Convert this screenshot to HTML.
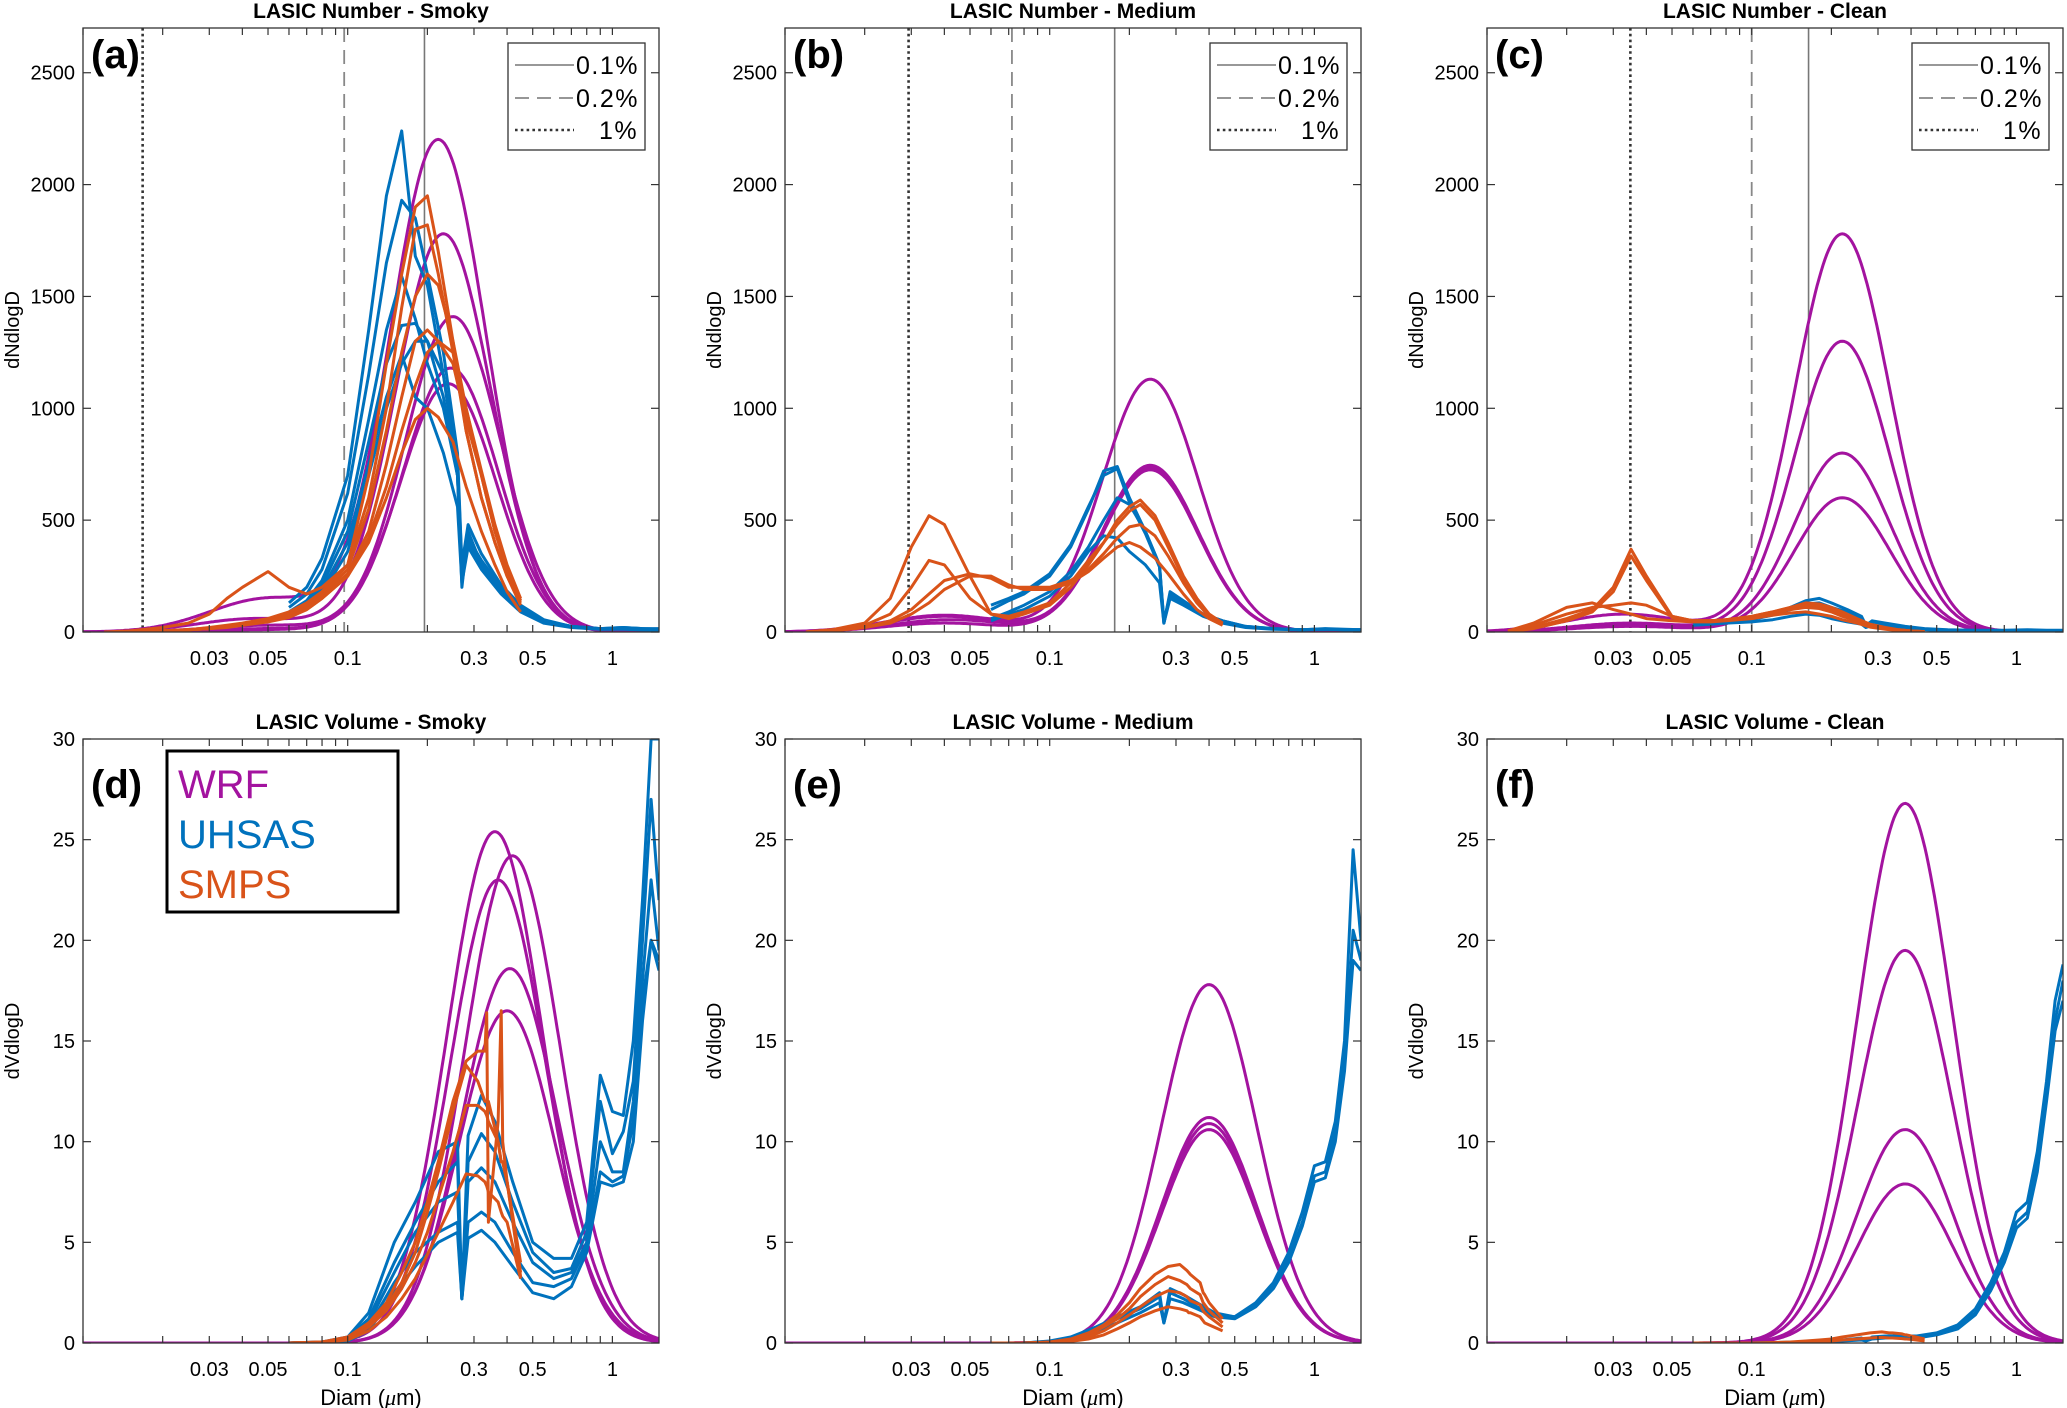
<!DOCTYPE html>
<html><head><meta charset="utf-8">
<style>
html,body{margin:0;padding:0;background:#fff;}
svg{display:block;font-family:"Liberation Sans",Arial,sans-serif;}
</style></head>
<body>
<svg id="fig" xmlns="http://www.w3.org/2000/svg" width="2067" height="1408" viewBox="0 0 2067 1408"></svg>
<script>
// ---------- shared data ----------
const xTickLabels = ["0.03","0.05","0.1","0.3","0.5","1"];
const xTickValues = [0.03,0.05,0.1,0.3,0.5,1];
const numYTicks = [0,500,1000,1500,2000,2500];
const volYTicks = [0,5,10,15,20,25,30];
const smpsD = [0.012,0.015,0.02,0.025,0.03,0.035,0.04,0.05,0.06,0.07,0.08,0.1,0.12,0.14,0.16,0.18,0.2,0.22,0.25,0.28,0.32,0.36,0.4,0.45];
const uhsasD = [0.06,0.07,0.08,0.1,0.12,0.14,0.16,0.18,0.2,0.23,0.26,0.27,0.285,0.32,0.38,0.45,0.55,0.7,0.9,1.1,1.3,1.5];
const uhsasVD = [0.06,0.08,0.1,0.12,0.15,0.18,0.22,0.26,0.27,0.285,0.32,0.36,0.42,0.5,0.6,0.7,0.8,0.9,1.0,1.1,1.2,1.3,1.4,1.5];
const smpsVD = [0.06,0.08,0.1,0.12,0.14,0.16,0.18,0.2,0.22,0.25,0.28,0.31,0.33,0.335,0.34,0.37,0.38,0.385,0.4,0.45];

// ---------- panel (a) Number Smoky ----------
const aWrfPeak = [2200,1780,1410,1180,1110];
const aWrfMode = [0.22,0.23,0.25,0.245,0.24];
const aWrfAitPeak = [150,60,30,15,10];
const aWrfAitMode = [0.05,0.045,0.05,0.05,0.05];
const aUhsas = [
 [130,200,330,700,1350,1950,2240,1680,1550,1150,700,200,450,300,180,100,50,25,15,20,15,15],
 [110,170,280,620,1150,1650,1930,1850,1600,1250,800,300,480,350,210,120,55,25,15,20,15,12],
 [90,140,230,500,950,1350,1590,1400,1200,1000,700,250,420,320,200,110,50,25,15,15,12,10],
 [80,130,210,450,850,1200,1370,1380,1300,1050,700,250,400,300,180,100,45,22,14,15,12,10],
 [80,120,190,400,750,1050,1240,1050,1000,800,560,220,380,280,170,90,40,20,12,14,10,10],
 [70,110,170,360,700,1000,1200,1300,1300,1150,750,300,420,310,190,100,45,22,12,12,10,8]];
const aSmps = [
 [0,5,20,40,80,150,200,270,200,170,200,300,700,1200,1600,1900,1950,1700,1300,900,600,400,250,130],
 [0,0,5,10,20,30,40,60,90,130,180,300,600,1000,1450,1800,1820,1600,1250,900,600,400,250,120],
 [0,0,5,10,15,25,35,55,80,120,170,280,550,900,1250,1500,1600,1550,1300,1000,700,450,280,140],
 [0,0,5,10,15,25,35,50,75,110,160,260,450,750,1050,1300,1350,1300,1200,950,700,450,280,140],
 [0,0,5,10,15,25,35,50,70,100,150,250,420,650,900,1100,1250,1300,1250,1000,720,480,300,150],
 [0,0,5,10,15,20,30,45,65,100,150,250,400,600,800,950,1000,960,850,650,450,300,180,90]];
const aVlines = [0.195,0.097,0.0168];

// ---------- panel (b) Number Medium ----------
const bWrfPeak = [1130,745,735,725];
const bWrfMode = [0.24,0.24,0.24,0.24];
const bWrfAitPeak = [75,70,55,40];
const bWrfAitMode = [0.04,0.04,0.042,0.04];
const bUhsas = [
 [100,140,170,250,380,550,720,740,600,450,300,40,180,140,80,50,25,15,10,15,12,10],
 [120,150,180,260,390,560,700,730,580,440,290,40,170,130,75,45,22,14,10,14,10,10],
 [60,90,120,180,270,380,500,600,570,450,300,50,160,130,80,50,25,15,10,12,10,10],
 [50,80,100,160,250,360,430,420,360,300,220,40,150,120,70,40,20,12,10,12,10,10]];
const bSmps = [
 [0,10,40,150,380,520,480,250,80,60,80,120,200,300,400,500,560,590,520,400,250,150,80,40],
 [0,10,30,80,200,320,300,150,80,70,90,130,220,320,400,480,540,570,500,380,240,140,80,40],
 [0,5,20,50,100,170,230,260,240,200,200,200,230,280,350,420,470,480,430,340,220,130,70,35],
 [0,5,20,40,80,130,190,250,250,210,190,190,220,270,330,380,400,380,330,260,170,100,60,30]];
const bVlines = [0.176,0.072,0.0293];

// ---------- panel (c) Number Clean ----------
const cWrfPeak = [1780,1300,800,600];
const cWrfMode = [0.22,0.22,0.22,0.22];
const cWrfAitPeak = [80,40,30,25];
const cWrfAitMode = [0.033,0.035,0.035,0.035];
const cUhsas = [
 [40,45,50,60,80,110,140,150,130,100,70,30,50,40,25,15,10,8,8,10,8,8],
 [35,40,45,55,75,100,125,130,110,90,60,25,45,35,20,12,8,6,6,8,6,6],
 [30,35,40,45,55,70,80,75,60,45,35,20,30,25,15,10,6,5,5,6,5,5]];
const cSmps = [
 [0,20,60,100,200,370,250,70,50,50,55,70,90,110,130,125,110,90,60,35,20,10,5,2],
 [0,15,50,90,180,340,230,65,50,50,55,70,90,110,120,115,100,80,55,30,18,10,5,2],
 [5,30,80,110,120,130,120,70,50,50,55,65,85,100,110,105,90,70,50,28,15,8,4,2],
 [5,40,110,130,100,80,60,50,45,45,50,60,75,85,90,80,70,55,40,22,12,6,3,1]];
const cVlines = [0.164,0.1,0.0348];

// ---------- panel (d) Volume Smoky ----------
const dWrfPeak = [25.4,24.2,23.0,18.6,16.5];
const dWrfMode = [0.36,0.42,0.37,0.41,0.40];
const dUhsas = [
 [0,0.05,0.3,1.5,5,7,9.5,10,2.2,10.3,12.3,11,8,5,4.2,4.2,6,13.3,11.5,11.3,15,22,30,30],
 [0,0.05,0.25,1.2,4,6,8,9,2.2,9,10.4,9.5,7,4.5,3.5,3.7,5.5,12,9.4,10.5,13,20,27,22],
 [0,0.04,0.2,1,3.5,5.5,7,7.5,2.2,8,8.7,8,6,4,3.2,3.5,5,10,8.5,8.5,12,18,23,19.5],
 [0,0.03,0.15,0.8,3,4.5,5.5,6,2.2,6,6.5,6,4.5,3,2.8,3.2,4.8,8.5,8,8.3,11,17,20,18.5],
 [0,0.03,0.1,0.6,2.5,3.8,5,5.5,2.2,5.2,5.6,5,3.8,2.5,2.2,2.8,4.5,8,7.8,8,10,16,20,19]];
const dSmps = [
 [0,0.05,0.3,1,2,3.5,5,7,9,12,14,14.5,14.5,16.4,6,11,16.5,10,8,4],
 [0,0.05,0.25,0.9,1.8,3,4.5,6.5,8.5,11.5,13.8,13,12,12,12,10,9,9,8,3.3],
 [0,0.04,0.2,0.8,1.6,2.7,4,5.5,7.2,9.5,11.8,11.8,11.5,11.3,11,10,9,9,8,3.5],
 [0,0.03,0.15,0.6,1.3,2.2,3.2,4.4,5.5,7,8.4,8.3,8,7.8,7.5,7,6.5,6.3,6,3.2]];

// ---------- panel (e) Volume Medium ----------
const eWrfPeak = [17.8,11.2,10.9,10.6];
const eWrfMode = [0.40,0.40,0.40,0.40];
const eUhsas = [
 [0,0,0.1,0.3,0.8,1.3,1.8,2.5,1,2.7,2.4,2,1.5,1.3,2,3,4.5,6.5,8.8,9,11,15,24.5,20],
 [0,0,0.08,0.25,0.7,1.2,1.7,2.3,1,2.5,2.2,1.8,1.4,1.3,1.9,2.8,4.2,6,8.3,8.5,10.5,14,20.5,19],
 [0,0,0.06,0.2,0.6,1,1.5,2,1,2.2,2,1.7,1.3,1.2,1.8,2.7,4,5.8,8,8.2,10,13.5,19,18.5]];
const eSmps = [
 [0,0,0.05,0.2,0.5,0.9,1.4,2,2.7,3.4,3.8,3.9,3.6,3.5,3.4,3,2.5,2.4,2,1.2],
 [0,0,0.04,0.15,0.4,0.8,1.2,1.7,2.3,2.9,3.3,3.1,2.9,2.8,2.7,2.4,2,1.9,1.6,1],
 [0,0,0.03,0.1,0.3,0.6,1,1.4,1.8,2.3,2.6,2.5,2.3,2.2,2.1,1.9,1.6,1.5,1.3,0.8],
 [0,0,0.02,0.08,0.2,0.4,0.7,1,1.3,1.6,1.8,1.7,1.6,1.5,1.5,1.3,1.1,1,0.9,0.6]];

// ---------- panel (f) Volume Clean ----------
const fWrfPeak = [26.8,19.5,10.6,7.9];
const fWrfMode = [0.38,0.38,0.38,0.38];
const fUhsas = [
 [0,0,0,0.02,0.05,0.1,0.15,0.25,0.1,0.3,0.35,0.35,0.35,0.5,0.9,1.7,3,4.5,6.5,7,9.5,13,17,18.8],
 [0,0,0,0.02,0.04,0.08,0.12,0.2,0.1,0.25,0.3,0.3,0.3,0.45,0.8,1.5,2.8,4.2,6,6.5,9,12.5,16,18],
 [0,0,0,0.01,0.03,0.06,0.1,0.15,0.1,0.2,0.25,0.25,0.25,0.4,0.7,1.4,2.6,4,5.7,6.2,8.5,12,15.5,17]];
const fSmps = [
 [0,0,0,0.02,0.05,0.1,0.15,0.2,0.3,0.4,0.5,0.55,0.5,0.5,0.5,0.45,0.4,0.4,0.35,0.2],
 [0,0,0,0.01,0.03,0.05,0.08,0.1,0.15,0.2,0.25,0.28,0.25,0.25,0.25,0.22,0.2,0.2,0.18,0.1]];

// ---------- rendering ----------
const NS = "http://www.w3.org/2000/svg";
const svg = document.getElementById("fig");
const PURPLE="#A3139F", BLUE="#0072BD", ORANGE="#D95319";
const W=576, H=604, XMIN=0.01, XMAX=1.5;
const LOGSIG = 0.18;
function mk(tag, attrs, parent){
  const e=document.createElementNS(NS,tag);
  for(const k in attrs) e.setAttribute(k,attrs[k]);
  (parent||svg).appendChild(e); return e;
}
function txt(s, attrs, parent){ const t=mk("text",attrs,parent); t.textContent=s; return t; }

function drawPanel(p){
  const g=mk("g",{});
  
  
  const L=p.left, T=p.top, B=T+H, R=L+W;
  const xs=d=> L+(Math.log10(d)-Math.log10(XMIN))/(Math.log10(XMAX)-Math.log10(XMIN))*W;
  const ys=v=> B-v/p.ymax*H;
  const clipId="clip-"+p.id;
  const cp=mk("clipPath",{id:clipId},g); mk("rect",{x:L,y:T,width:W,height:H},cp);
  // title
  const ti=txt(p.title,{x:L+W/2,y:T-10,"text-anchor":"middle","font-size":"21","font-weight":"bold"},g);
  
  
  // vlines
  const styles=[{stroke:"#777","stroke-width":1.6},{stroke:"#888","stroke-width":1.8,"stroke-dasharray":"14,8"},{stroke:"#333","stroke-width":2.6,"stroke-dasharray":"2.6,3.2"}];
  (p.vlines||[]).forEach((v,i)=>{
    const ln=mk("line",Object.assign({x1:xs(v),x2:xs(v),y1:T,y2:B},styles[i]),g);
    
    
  });
  const cg=mk("g",{"clip-path":"url(#"+clipId+")",fill:"none","stroke-width":3,"stroke-linejoin":"round"},g);
  // WRF
  p.wrfPeak.forEach((pk,i)=>{
    let d="";
    for(let k=0;k<=300;k++){
      const lx=Math.log10(XMIN)+k/300*(Math.log10(XMAX)-Math.log10(XMIN));
      const dd=Math.pow(10,lx);
      let v=pk*Math.exp(-Math.pow(lx-Math.log10(p.wrfMode[i]),2)/(2*LOGSIG*LOGSIG));
      if(p.aitPeak) v+=p.aitPeak[i]*Math.exp(-Math.pow(lx-Math.log10(p.aitMode[i]),2)/(2*0.22*0.22));
      d+=(k?"L":"M")+xs(dd).toFixed(1)+","+ys(v).toFixed(1);
    }
    const pa=mk("path",{d:d,stroke:PURPLE},cg);
    
    
  });
  function series(grid,arr,col,name){
    arr.forEach((vals,i)=>{
      const d=vals.map((v,k)=>(k?"L":"M")+xs(grid[k]).toFixed(1)+","+ys(v).toFixed(1)).join("");
      const pa=mk("path",{d:d,stroke:col},cg);
      
      
    });
  }
  series(p.uGrid,p.uhsas,BLUE,"uhsas");
  series(p.sGrid,p.smps,ORANGE,"smps");
  // frame
  const fr=mk("rect",{x:L,y:T,width:W,height:H,fill:"none",stroke:"#333","stroke-width":1.3},g);
  
  
  // x ticks
  for(let dec=-2;dec<=0;dec++){
    for(let m=1;m<=9;m++){
      const v=m*Math.pow(10,dec); if(v<XMIN||v>XMAX) continue;
      const x=xs(v);
      mk("line",{x1:x,x2:x,y1:B,y2:B-7,stroke:"#333","stroke-width":1.2},g);
      mk("line",{x1:x,x2:x,y1:T,y2:T+7,stroke:"#333","stroke-width":1.2},g);
    }
  }
  xTickValues.forEach((v,i)=>{
    const t=txt(xTickLabels[i],{x:xs(v),y:B+33,"text-anchor":"middle","font-size":"20"},g);
    
    
  });
  p.yticks.forEach(v=>{
    const y=ys(v);
    mk("line",{x1:L,x2:L+8,y1:y,y2:y,stroke:"#333","stroke-width":1.2},g);
    mk("line",{x1:R,x2:R-8,y1:y,y2:y,stroke:"#333","stroke-width":1.2},g);
    const t=txt(String(v),{x:L-8,y:y+7,"text-anchor":"end","font-size":"20"},g);
    
    
  });
  const yl=txt(p.ylabel,{x:0,y:0,"text-anchor":"middle","font-size":"20",transform:"translate("+(L-64)+","+(T+H/2)+") rotate(-90)"},g);
  
  
  if(p.xlabel){
    const xl=txt("",{x:L+W/2,y:B+62,"text-anchor":"middle","font-size":"22"},g);
    xl.innerHTML='Diam (<tspan font-family="Liberation Serif, serif" font-style="italic">μ</tspan>m)';
    
    
  }
  const pl=txt(p.label,{x:L+8,y:T+p.labelDy,"font-size":"40","font-weight":"bold"},g);
  
  
  if(p.vlines){
    const lg=mk("g",{},g);
    
    
    const bx=R-151, by=T+15;
    mk("rect",{x:bx,y:by,width:137,height:107,fill:"#fff",stroke:"#333","stroke-width":1.3},lg);
    const labs=["0.1%","0.2%","1%"], ey=[22,55,87];
    labs.forEach((s,i)=>{
      mk("line",Object.assign({x1:bx+7,x2:bx+66,y1:by+ey[i],y2:by+ey[i]},styles[i]),lg);
      const t=txt(s,{x:bx+(i==2?91:68),y:by+ey[i]+9,"font-size":"25","letter-spacing":"1.5"},lg);
      
      
    });
  }
}

const cols=[83,785,1487], rows=[28,739];
const panels=[
 {id:"a",left:cols[0],top:rows[0],ymax:2700,yticks:numYTicks,title:"LASIC Number - Smoky",label:"(a)",labelDy:40,ylabel:"dNdlogD",vlines:aVlines,wrfPeak:aWrfPeak,wrfMode:aWrfMode,aitPeak:aWrfAitPeak,aitMode:aWrfAitMode,uGrid:uhsasD,uhsas:aUhsas,sGrid:smpsD,smps:aSmps},
 {id:"b",left:cols[1],top:rows[0],ymax:2700,yticks:numYTicks,title:"LASIC Number - Medium",label:"(b)",labelDy:40,ylabel:"dNdlogD",vlines:bVlines,wrfPeak:bWrfPeak,wrfMode:bWrfMode,aitPeak:bWrfAitPeak,aitMode:bWrfAitMode,uGrid:uhsasD,uhsas:bUhsas,sGrid:smpsD,smps:bSmps},
 {id:"c",left:cols[2],top:rows[0],ymax:2700,yticks:numYTicks,title:"LASIC Number - Clean",label:"(c)",labelDy:40,ylabel:"dNdlogD",vlines:cVlines,wrfPeak:cWrfPeak,wrfMode:cWrfMode,aitPeak:cWrfAitPeak,aitMode:cWrfAitMode,uGrid:uhsasD,uhsas:cUhsas,sGrid:smpsD,smps:cSmps},
 {id:"d",left:cols[0],top:rows[1],ymax:30,yticks:volYTicks,title:"LASIC Volume - Smoky",label:"(d)",labelDy:59,ylabel:"dVdlogD",xlabel:true,wrfPeak:dWrfPeak,wrfMode:dWrfMode,uGrid:uhsasVD,uhsas:dUhsas,sGrid:smpsVD,smps:dSmps},
 {id:"e",left:cols[1],top:rows[1],ymax:30,yticks:volYTicks,title:"LASIC Volume - Medium",label:"(e)",labelDy:59,ylabel:"dVdlogD",xlabel:true,wrfPeak:eWrfPeak,wrfMode:eWrfMode,uGrid:uhsasVD,uhsas:eUhsas,sGrid:smpsVD,smps:eSmps},
 {id:"f",left:cols[2],top:rows[1],ymax:30,yticks:volYTicks,title:"LASIC Volume - Clean",label:"(f)",labelDy:59,ylabel:"dVdlogD",xlabel:true,wrfPeak:fWrfPeak,wrfMode:fWrfMode,uGrid:uhsasVD,uhsas:fUhsas,sGrid:smpsVD,smps:fSmps}
];
panels.forEach(drawPanel);

// instrument legend in (d)
const il=mk("g",{});


mk("rect",{x:167,y:751,width:231,height:161,fill:"#fff",stroke:"#000","stroke-width":3},il);
[["WRF",PURPLE,798],["UHSAS",BLUE,848],["SMPS",ORANGE,898]].forEach(e=>{
  const t=txt(e[0],{x:178,y:e[2],"font-size":"40",fill:e[1]},il);
  
  
});
</script>
</body></html>
